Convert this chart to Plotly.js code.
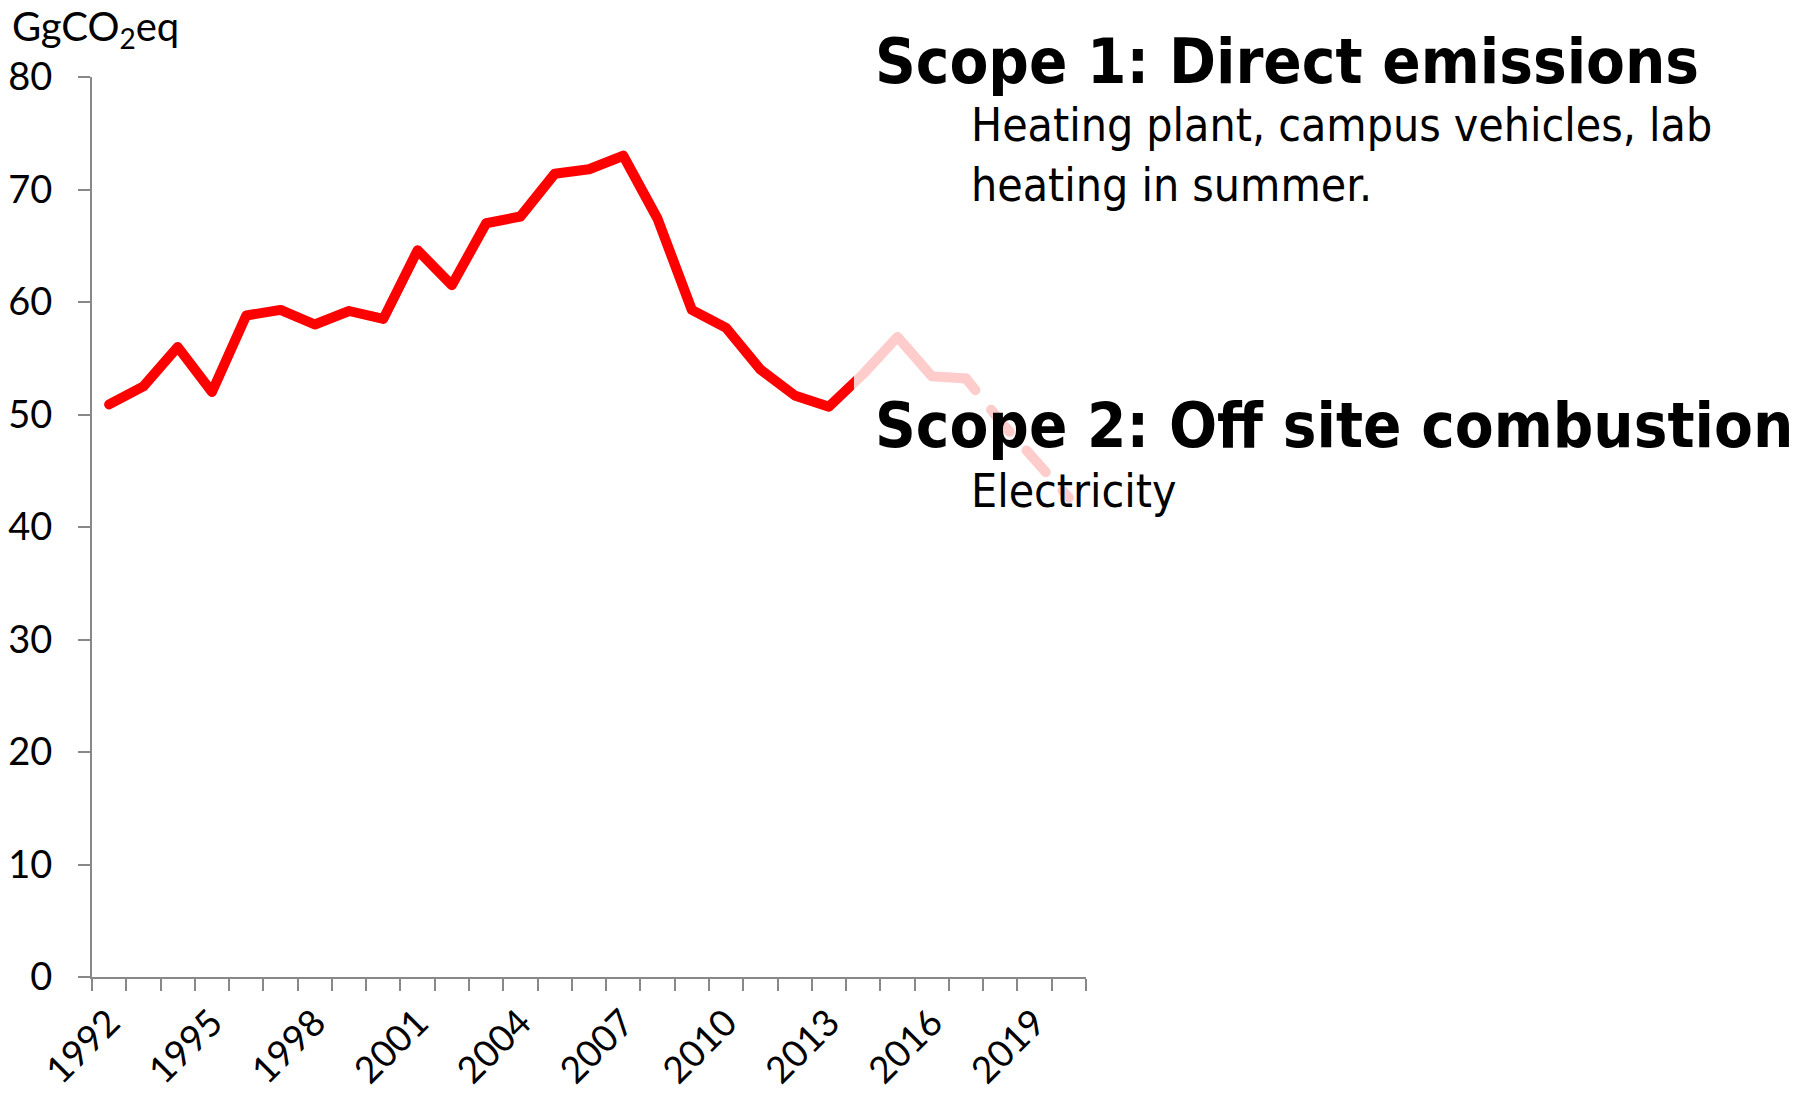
<!DOCTYPE html>
<html><head><meta charset="utf-8">
<script src="https://cdn.plot.ly/plotly-3.0.1.min.js"></script>
<style>
html,body{margin:0;padding:0;background:#fff;}
#chart{width:1806px;height:1095px;}
.scatterlayer path.js-line{stroke-linecap:round;stroke-linejoin:round;}
</style></head><body><div id="chart"></div>
<script>
// ---- data ----
const years = [1992,1993,1994,1995,1996,1997,1998,1999,2000,2001,2002,2003,2004,2005,2006,2007,2008,2009,2010,2011,2012,2013,2014,2015,2016,2017,2018,2019,2020];
const emissions = [50.9,52.5,56.0,52.0,58.8,59.3,58.0,59.2,58.5,64.6,61.5,67.0,67.6,71.4,71.8,73.0,67.4,59.3,57.7,54.0,51.7,50.7,53.6,56.9,53.4,53.2,49.4,46.0,42.6];
const labelYears = [1992,1995,1998,2001,2004,2007,2010,2013,2016,2019];
const yTicks = [0,10,20,30,40,50,60,70,80];
const projectionFrom = 2017;
const yTitle = 'GgCO<sub>2</sub>eq';
const scope1Title = 'Scope 1: Direct emissions';
const scope1Text = 'Heating plant, campus vehicles, lab<br>heating in summer.';
const scope2Title = 'Scope 2: Off site combustion';
const scope2Text = 'Electricity';

// ---- layout helpers ----
const W = 1806, H = 1095;
const M = {l:92, r:720, t:77, b:118};
const pw = W - M.l - M.r, ph = H - M.t - M.b;
const px = x => (x - M.l) / pw;
const py = y => (H - M.b - y) / ph;

const split = years.indexOf(projectionFrom);
const red = '#FF0000';
const axisGray = '#888888';
const latoFam = 'Lato, "Open Sans", sans-serif';
const noteFamily = '"DejaVu Sans Condensed", "DejaVu Sans", sans-serif';

const traces = [
  {x: years.slice(0, split+1), y: emissions.slice(0, split+1), type:'scatter', mode:'lines',
   line:{color:red, width:10}, hoverinfo:'skip', showlegend:false},
  {x: years.slice(split), y: emissions.slice(split), type:'scatter', mode:'lines',
   line:{color:red, width:10, dash:'15px,25px,29px,25px,29px,25px,29px,25px'}, hoverinfo:'skip', showlegend:false}
];

const layout = {
  width: W, height: H,
  margin: M,
  paper_bgcolor:'#fff', plot_bgcolor:'#fff',
  showlegend:false,
  xaxis: {
    range:[1991.5, 2020.5], tickmode:'array', tickvals: labelYears, ticktext: labelYears.map(String),
    ticks:'', tickangle:-45, tickfont:{family:latoFam, size:37, color:'#000'}, ticklabelstandoff: 7,
    showline:true, linecolor:axisGray, linewidth:2, showgrid:false, zeroline:false,
    minor:{tickmode:'linear', tick0:1991.5, dtick:1, ticks:'outside', ticklen:12, tickcolor:axisGray, tickwidth:2, showgrid:false}
  },
  yaxis: {
    range:[0, 80], tickmode:'array', tickvals: yTicks, ticktext: yTicks.map(String),
    ticks:'outside', ticklen:12, tickcolor:axisGray, tickwidth:2, tickfont:{family:latoFam, size:38, color:'#000'}, ticklabelstandoff: 18,
    showline:true, linecolor:axisGray, linewidth:2, showgrid:false, zeroline:false
  },
  shapes: [
    {type:'rect', xref:'x', yref:'y', x0:2013.73, x1:2020.5, y0:30, y1:80,
     fillcolor:'rgba(255,255,255,0.8)', line:{width:0}, layer:'above'}
  ],
  annotations: [
    {text: yTitle, xref:'paper', yref:'paper', x: px(10), y: py(0), xanchor:'left', yanchor:'top',
     showarrow:false, font:{family:'Lato, sans-serif', size:40, color:'#000'}},
    {text: '<b>'+scope1Title+'</b>', xref:'paper', yref:'paper', x: px(873), y: py(23), xanchor:'left', yanchor:'top',
     showarrow:false, font:{family:noteFamily, size:63, color:'#000'}},
    {text: scope1Text, xref:'paper', yref:'paper', x: px(969), y: py(96), xanchor:'left', yanchor:'top', align:'left',
     showarrow:false, font:{family:noteFamily, size:46, color:'#000'}},
    {text: '<b>'+scope2Title+'</b>', xref:'paper', yref:'paper', x: px(873), y: py(387), xanchor:'left', yanchor:'top',
     showarrow:false, font:{family:noteFamily, size:63, color:'#000'}},
    {text: scope2Text, xref:'paper', yref:'paper', x: px(969), y: py(462), xanchor:'left', yanchor:'top',
     showarrow:false, font:{family:noteFamily, size:46, color:'#000'}}
  ]
};

Plotly.newPlot('chart', traces, layout, {displayModeBar:false, staticPlot:true});
</script></body></html>
